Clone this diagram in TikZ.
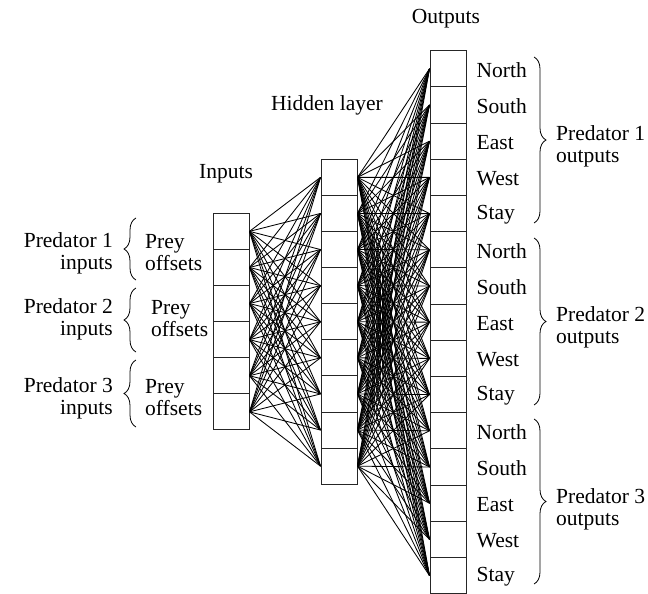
\documentclass[tikz,border=0pt]{standalone}
\usepackage{fontspec}
\setmainfont{Liberation Serif}
\usetikzlibrary{decorations.pathreplacing}
\begin{document}
\begin{tikzpicture}[x=1pt,y=-1pt,
  cell/.style={draw=black!85,line width=1pt,minimum width=36pt,minimum height=36.1pt,inner sep=0pt},
  wire/.style={line width=0.85pt},
  lbl/.style={font=\fontsize{21.5}{22}\selectfont,inner sep=0pt},
  brc/.style={decorate,decoration={brace,amplitude=12pt},line width=0.8pt}]
\useasboundingbox (0,0) rectangle (648,594);
% inputs
\foreach \k in {1,...,6}{\node[cell] (i\k) at (231,{213.3+36.1*(\k-0.5)}) {};}
\foreach \k in {1,...,9}{\node[cell] (h\k) at (339,{159.3+36.1*(\k-0.5)}) {};}
\foreach \k in {1,...,15}{\node[cell,minimum height=36.2pt] (o\k) at (448,{50.7+36.2*(\k-0.5)}) {};}
% wires
\foreach \a in {1,...,6}{\foreach \b in {1,...,9}{\draw[wire] (i\a.east) -- (h\b.west);}}
\foreach \a in {1,...,9}{\foreach \b in {1,...,15}{\draw[wire] (h\a.east) -- (o\b.west);}}
% titles
\node[lbl] (tin) at (226,174) {Inputs};
\node[lbl] (thid) at (327,105) {Hidden layer};
\node[lbl] (tout) at (446,19) {Outputs};
% output labels
\foreach \k/\t in {1/North,2/South,3/East,4/West,5/Stay,6/North,7/South,8/East,9/West,10/Stay,11/North,12/South,13/East,14/West,15/Stay}{
  \node[lbl,anchor=west] (ol\k) at ([xshift=10pt,yshift=-1pt]o\k.east) {\t};}
% right braces
\coordinate (rb1a) at (534,57); \coordinate (rb1b) at (534,223);
\coordinate (rb2a) at (534,238); \coordinate (rb2b) at (534,405);
\coordinate (rb3a) at (534,419); \coordinate (rb3b) at (534,584);
\foreach \g in {1,2,3}{\draw[brc] (rb\g a) -- (rb\g b);}
\node[lbl,anchor=west,align=left] (po1) at (556,146) {Predator 1\\outputs};
\node[lbl,anchor=west,align=left] (po2) at (556,327) {Predator 2\\outputs};
\node[lbl,anchor=west,align=left] (po3) at (556,509) {Predator 3\\outputs};
% left braces
\coordinate (lb1a) at (136,280); \coordinate (lb1b) at (136,218);
\coordinate (lb2a) at (136,352); \coordinate (lb2b) at (136,288);
\coordinate (lb3a) at (136,427); \coordinate (lb3b) at (136,360);
\foreach \g in {1,2,3}{\draw[brc] (lb\g a) -- (lb\g b);}
\node[lbl,anchor=east,align=right] (pi1) at (113,253) {Predator 1\\inputs};
\node[lbl,anchor=east,align=right] (pi2) at (113,319) {Predator 2\\inputs};
\node[lbl,anchor=east,align=right] (pi3) at (113,398) {Predator 3\\inputs};
\node[lbl,anchor=west,align=left] (pr1) at (145,253) {Prey\\offsets};
\node[lbl,anchor=west,align=left] (pr2) at (151,319) {Prey\\offsets};
\node[lbl,anchor=west,align=left] (pr3) at (145,398) {Prey\\offsets};
\end{tikzpicture}
\end{document}
